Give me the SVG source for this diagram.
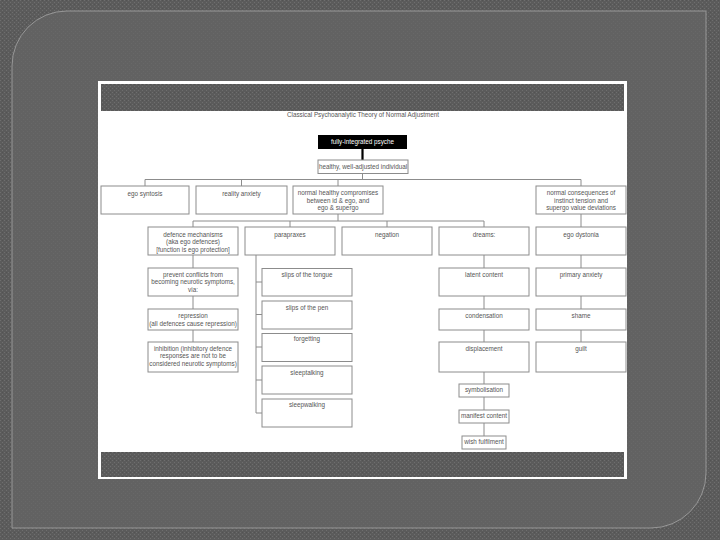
<svg xmlns="http://www.w3.org/2000/svg" width="720" height="540" viewBox="0 0 720 540">
<defs>
<pattern id="tex" width="4" height="4" patternUnits="userSpaceOnUse">
<rect width="4" height="4" fill="#5b5b5b"/>
<rect x="0" y="0" width="1" height="1" fill="#6e6e6e"/>
<rect x="2" y="2" width="1" height="1" fill="#6e6e6e"/>
<rect x="2" y="0" width="1" height="1" fill="#535353"/>
</pattern>
<pattern id="tex2" width="4" height="4" patternUnits="userSpaceOnUse">
<rect width="4" height="4" fill="#626262"/>
<rect x="1" y="1" width="1" height="1" fill="#686868"/>
<rect x="3" y="3" width="1" height="1" fill="#686868"/>
</pattern>
</defs>
<style>
.b{fill:#fff;stroke:#8c8c8c;stroke-width:1}
.t{font-family:"Liberation Sans",Arial,sans-serif;font-size:6.3px;fill:#555;text-anchor:middle}
.c{fill:none;stroke:#8c8c8c;stroke-width:1}
</style>
<rect width="720" height="540" fill="url(#tex)"/>
<path d="M67 11 H706 V473 A55 55 0 0 1 651 528 H12 V66 A55 55 0 0 1 67 11 Z" fill="url(#tex2)" stroke="#979797" stroke-width="1"/>
<rect x="98" y="81" width="529" height="398" fill="#fff"/>
<rect x="101" y="84" width="523" height="27" fill="url(#tex)"/>
<rect x="101" y="452" width="523" height="25" fill="url(#tex)"/>
<text class="t" x="363" y="116.5">Classical Psychoanalytic Theory of Normal Adjustment</text>

<g id="connectors">
<line x1="362.5" y1="149" x2="362.5" y2="160" stroke="#000" stroke-width="2.2"/>
<path class="c" d="M362.5 173.5 V179.5 M145 179.5 H581 M145 179.5 V186 M241.5 179.5 V186 M338 179.5 V186 M581 179.5 V186"/>
<path class="c" d="M338 214 V221 M193 221 H484 M193 221 V227 M290 221 V227 M387 221 V227 M484 221 V227 M581 214 V227"/>
<path class="c" d="M193 255 V268 M193 296 V309 M193 330 V342"/>
<path class="c" d="M256 255 V413 M256 282 H262 M256 314.5 H262 M256 347 H262 M256 380 H262 M256 413 H262"/>
<path class="c" d="M484 255 V268 M484 296 V309 M484 330 V342 M484 372 V384 M484 397 V410 M484 423 V436"/>
<path class="c" d="M581 255 V268 M581 296 V309 M581 330 V342"/>
</g>

<g id="n-psyche"><rect x="318" y="135" width="89" height="14" fill="#000"/><text class="t" x="362.5" y="144" style="fill:#fff">fully-integrated psyche</text></g>
<g id="n-healthy"><rect class="b" x="318" y="160" width="90" height="13.5"/><text class="t" x="363" y="169.2">healthy, well-adjusted individual</text></g>

<g id="n-syntosis"><rect class="b" x="101" y="186" width="88" height="28"/><text class="t" x="145" y="195.5">ego syntosis</text></g>
<g id="n-reality"><rect class="b" x="196" y="186" width="91" height="28"/><text class="t" x="241.5" y="195.5">reality anxiety</text></g>
<g id="n-compromise"><rect class="b" x="293" y="186" width="90" height="28"/><text class="t" x="338" y="195">normal healthy compromises</text><text class="t" x="338" y="202.5">between id &amp; ego, and</text><text class="t" x="338" y="210">ego &amp; supergo</text></g>
<g id="n-consequences"><rect class="b" x="536" y="186" width="90" height="28"/><text class="t" x="581" y="195">normal consequences of</text><text class="t" x="581" y="202.5">instinct tension and</text><text class="t" x="581" y="210">supergo value deviations</text></g>

<g id="n-defence"><rect class="b" x="148" y="227" width="90" height="28"/><text class="t" x="193" y="236.5">defence mechanisms</text><text class="t" x="193" y="244">(aka ego defences)</text><text class="t" x="193" y="251.5">[function is ego protection]</text></g>
<g id="n-parapraxes"><rect class="b" x="245" y="227" width="90" height="28"/><text class="t" x="290" y="236.5">parapraxes</text></g>
<g id="n-negation"><rect class="b" x="342" y="227" width="90" height="28"/><text class="t" x="387" y="236.5">negation</text></g>
<g id="n-dreams"><rect class="b" x="439" y="227" width="90" height="28"/><text class="t" x="484" y="236.5">dreams:</text></g>
<g id="n-dystonia"><rect class="b" x="536" y="227" width="90" height="28"/><text class="t" x="581" y="236.5">ego dystonia</text></g>

<g id="n-prevent"><rect class="b" x="148" y="268" width="90" height="28"/><text class="t" x="193" y="276.5">prevent conflicts from</text><text class="t" x="193" y="284">becoming neurotic symptoms,</text><text class="t" x="193" y="291.5">via:</text></g>
<g id="n-repression"><rect class="b" x="148" y="309" width="90" height="21"/><text class="t" x="193" y="318">repression</text><text class="t" x="193" y="325.5">(all defences cause repression)</text></g>
<g id="n-inhibition"><rect class="b" x="148" y="342" width="90" height="30"/><text class="t" x="193" y="350.5">inhibition (inhibitory defence</text><text class="t" x="193" y="358.3">responses are not to be</text><text class="t" x="193" y="366">considered neurotic symptoms)</text></g>

<g id="n-tongue"><rect class="b" x="262" y="268.5" width="90" height="27.5"/><text class="t" x="307" y="276.5">slips of the tongue</text></g>
<g id="n-pen"><rect class="b" x="262" y="301" width="90" height="28"/><text class="t" x="307" y="309.5">slips of the pen</text></g>
<g id="n-forgetting"><rect class="b" x="262" y="333.5" width="90" height="28"/><text class="t" x="307" y="341.2">forgetting</text></g>
<g id="n-sleeptalking"><rect class="b" x="262" y="366" width="90" height="28"/><text class="t" x="307" y="374.5">sleeptalking</text></g>
<g id="n-sleepwalking"><rect class="b" x="262" y="399" width="90" height="28"/><text class="t" x="307" y="407.2">sleepwalking</text></g>

<g id="n-latent"><rect class="b" x="439" y="268" width="90" height="28"/><text class="t" x="484" y="276.5">latent content</text></g>
<g id="n-condensation"><rect class="b" x="439" y="309" width="90" height="21"/><text class="t" x="484" y="318">condensation</text></g>
<g id="n-displacement"><rect class="b" x="439" y="342" width="90" height="30"/><text class="t" x="484" y="350.5">displacement</text></g>
<g id="n-symbolisation"><rect class="b" x="459" y="384" width="50" height="13"/><text class="t" x="484" y="392.2">symbolisation</text></g>
<g id="n-manifest"><rect class="b" x="459" y="410" width="50" height="13"/><text class="t" x="484" y="418.2">manifest content</text></g>
<g id="n-wish"><rect class="b" x="462" y="436" width="44" height="13"/><text class="t" x="484" y="444">wish fulfilment</text></g>

<g id="n-primary"><rect class="b" x="536" y="268" width="90" height="28"/><text class="t" x="581" y="276.5">primary anxiety</text></g>
<g id="n-shame"><rect class="b" x="536" y="309" width="90" height="21"/><text class="t" x="581" y="318">shame</text></g>
<g id="n-guilt"><rect class="b" x="536" y="342" width="90" height="30"/><text class="t" x="581" y="350.5">guilt</text></g>
</svg>
